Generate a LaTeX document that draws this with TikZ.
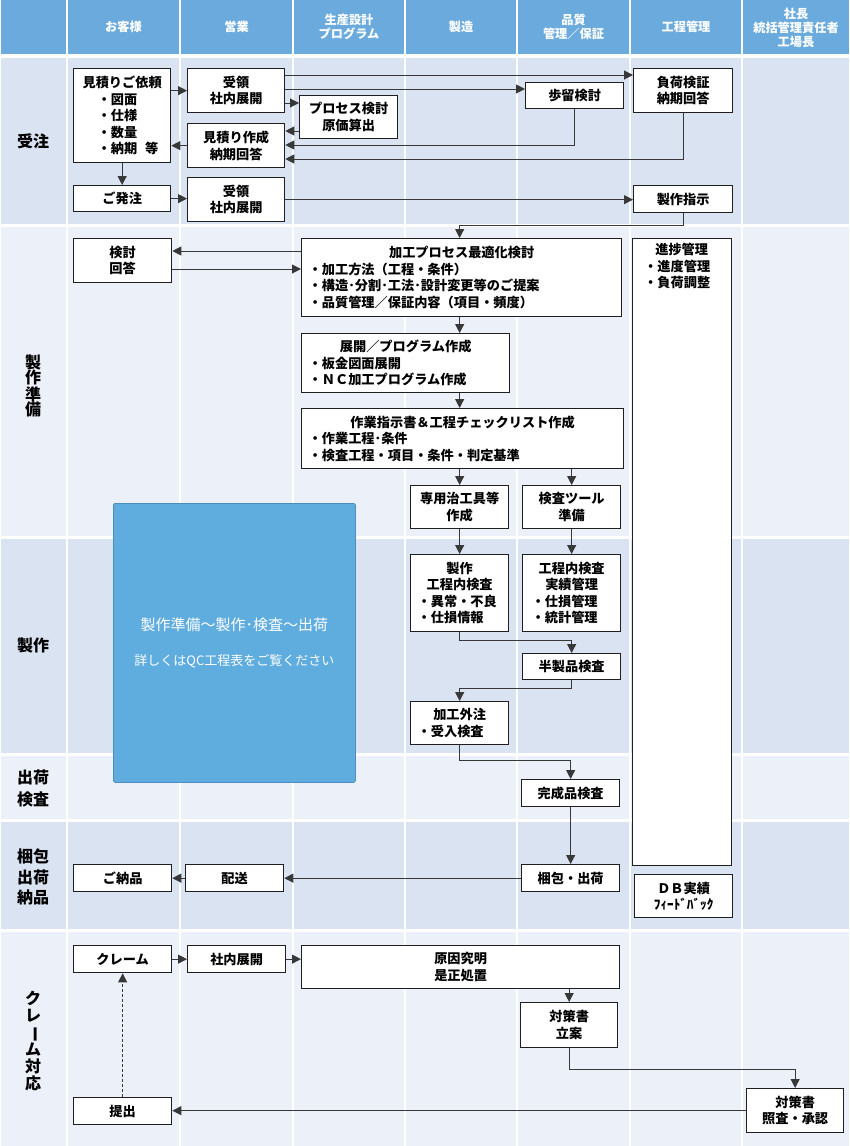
\documentclass[tikz,border=0pt]{standalone}
\usepackage{fontspec}
\usepackage{graphicx}
\setmainfont{Noto Sans CJK JP}
\usetikzlibrary{arrows.meta,calc}
\definecolor{hdr}{HTML}{6BAADC}
\definecolor{rowA}{HTML}{DAE3F1}
\definecolor{rowB}{HTML}{ECF1F9}
\definecolor{ovl}{HTML}{5FACDE}
\definecolor{ovlb}{HTML}{4A8DBF}
\definecolor{ln}{HTML}{383838}
\newcommand{\bxfont}{\fontsize{13.2}{16.5}\selectfont\bfseries}
\newcommand{\boxtitle}[1]{\noindent\makebox[\hsize]{#1}}
\begin{document}
\begin{tikzpicture}[x=1pt,y=-1pt,
  box/.style={draw=black!88, line width=1.3pt, fill=white, inner sep=0pt, align=center, font=\bxfont, anchor=north west},
  lbox/.style={box, align=left},
  arr/.style={draw=ln, line width=1pt, -{Triangle[length=9pt,width=9pt]}},
  hdrtxt/.style={text=white, font=\fontsize{12.2}{14.2}\selectfont\bfseries, align=center, inner sep=0pt},
  lbl/.style={font=\fontsize{16}{20.5}\selectfont\bfseries, align=center, inner sep=0pt},
  ovlbox/.style={fill=ovl, draw=ovlb, line width=0.8pt, rounded corners=2pt, anchor=north west, text=white, align=center, font=\fontsize{15}{35}\selectfont}
]
\useasboundingbox (0,0) rectangle (850,1146);
\fill[white] (0,0) rectangle (850,1146);
\foreach \ya/\yb/\c in {0/54/hdr,58/224/rowA,227/536/rowB,539/753/rowA,756/819/rowB,822/929/rowA,932/1146/rowB}{
  \foreach \xa/\xb in {0/67,67/180,180/293,293/405,405/517,517/630,630/742,742/850}{
    \fill[\c] (\xa+1,\ya) rectangle (\xb-1,\yb);
  }
}
% header
\node[hdrtxt] (h1) at (123.5,27) {お客様};
\node[hdrtxt] (h2) at (236.5,27) {営業};
\node[hdrtxt] (h3) at (349,27) {生産設計\\プログラム};
\node[hdrtxt] (h4) at (461,27) {製造};
\node[hdrtxt] (h5) at (573.5,27) {品質\\管理／保証};
\node[hdrtxt] (h6) at (686,27) {工程管理};
\node[hdrtxt] (h7) at (796,28) {社長\\統括管理責任者\\工場長};
% row labels
\node[lbl] (l1) at (33,141) {受注};
\node[lbl, font=\fontsize{16}{15.2}\selectfont\bfseries] (l2) at (33,386) {製\\作\\準\\備};
\node[lbl] (l3) at (33,645) {製作};
\node[lbl, font=\fontsize{16}{22}\selectfont\bfseries] (l4) at (33,788) {出荷\\検査};
\node[lbl] (l5) at (33,877) {梱包\\出荷\\納品};
\node[lbl, font=\fontsize{16}{16.8}\selectfont\bfseries] (l6) at (33,1041) {ク\\レ\\\rotatebox[origin=c]{-90}{ー}\\ム\\対\\応};
% overlay
\node[ovlbox, minimum width=242pt, minimum height=279pt] (qc) at (113,503) {製作準備～製作･検査～出荷\\{\fontsize{13}{35}\selectfont 詳しくはQC工程表をご覧ください}};
% boxes: 受注
\node[lbox, minimum width=97pt, minimum height=94pt, text width=83pt, inner xsep=7pt] (irai) at (73,68) {\boxtitle{見積りご依頼}\\\hspace*{17pt}・図面\\\hspace*{17pt}・仕様\\\hspace*{17pt}・数量\\\hspace*{17pt}・納期\hspace{8pt}等};
\node[box, minimum width=97pt, minimum height=44pt] (juryo1) at (187,68) {受領\\社内展開};
\node[box, minimum width=98pt, minimum height=43pt] (process) at (299,95) {プロセス検討\\原価算出};
\node[box, minimum width=97pt, minimum height=44pt] (mitsumori) at (187,123) {見積り作成\\納期回答};
\node[box, minimum width=97pt, minimum height=26pt] (hacchu) at (73,185) {ご発注};
\node[box, minimum width=97pt, minimum height=44pt] (juryo2) at (187,177) {受領\\社内展開};
\node[box, minimum width=98pt, minimum height=26pt] (budomari) at (525,82) {歩留検討};
\node[box, minimum width=99pt, minimum height=44pt] (fuka) at (633,68) {負荷検証\\納期回答};
\node[box, minimum width=99pt, minimum height=27pt] (seisakushiji) at (633,185) {製作指示};
% 製作準備
\node[box, minimum width=98pt, minimum height=44pt] (kento) at (73,238) {検討\\回答};
\node[lbox, minimum width=320pt, minimum height=78pt, text width=306pt, inner xsep=7pt] (kako) at (301,238) {\boxtitle{加工プロセス最適化検討}\\・加工方法（工程・条件）\\・構造･分割･工法･設計変更等のご提案\\・品質管理／保証内容（項目・頻度）};
\node[lbox, minimum width=208pt, minimum height=59pt, text width=194pt, inner xsep=7pt] (tenkai) at (301,333) {\boxtitle{展開／プログラム作成}\\・板金図面展開\\・ＮＣ加工プログラム作成};
\node[lbox, minimum width=322pt, minimum height=60pt, text width=308pt, inner xsep=7pt] (sagyo) at (301,408) {\boxtitle{作業指示書＆工程チェックリスト作成}\\・作業工程･条件\\・検査工程・項目・条件・判定基準};
\node[box, minimum width=98pt, minimum height=43pt] (jigu) at (410,485) {専用治工具等\\作成};
\node[box, minimum width=98pt, minimum height=43pt] (kensatool) at (522,485) {検査ツール\\準備};
% 製作
\node[lbox, minimum width=98pt, minimum height=77pt, text width=84pt, inner xsep=7pt] (seisaku) at (410,554) {\boxtitle{製作}\\\boxtitle{工程内検査}\\・異常・不良\\・仕損情報};
\node[lbox, minimum width=98pt, minimum height=77pt, text width=80pt, inner xsep=9pt] (jisseki) at (522,554) {\boxtitle{工程内検査}\\\boxtitle{実績管理}\\・仕損管理\\・統計管理};
\node[box, minimum width=98pt, minimum height=26pt] (hanseihin) at (522,653) {半製品検査};
\node[lbox, minimum width=98pt, minimum height=43pt, text width=84pt, inner xsep=7pt] (gaichu) at (410,701) {\boxtitle{加工外注}\\・受入検査};
\node[box, minimum width=98pt, minimum height=27pt] (kanseihin) at (521,779) {完成品検査};
\node[box, minimum width=98pt, minimum height=27pt] (konpo) at (521,864) {梱包・出荷};
\node[box, minimum width=99pt, minimum height=627pt] (shinchoku) at (632,238) {};
\node[inner sep=0pt, anchor=north west, align=left, text width=75pt, font=\bxfont] (shinchokutxt) at ([xshift=12pt,yshift=-5pt]shinchoku.north west) {\boxtitle{進捗管理}\\・進度管理\\・負荷調整};
\node[box, minimum width=98pt, minimum height=43pt] (db) at (634,874) {ＤＢ実績\\ﾌｨｰﾄﾞﾊﾞｯｸ};
\node[box, minimum width=98pt, minimum height=27pt] (nohin) at (73,864) {ご納品};
\node[box, minimum width=98pt, minimum height=27pt] (haiso) at (185,864) {配送};
% クレーム
\node[box, minimum width=98pt, minimum height=27pt] (claim) at (73,945) {クレーム};
\node[box, minimum width=98pt, minimum height=27pt] (shanai) at (187,945) {社内展開};
\node[box, minimum width=318pt, minimum height=43pt] (genin) at (301,945) {原因究明\\是正処置};
\node[box, minimum width=97pt, minimum height=45pt] (taisaku) at (520,1002) {対策書\\立案};
\node[box, minimum width=97pt, minimum height=44pt] (shoin) at (746,1088) {対策書\\照査・承認};
\node[box, minimum width=98pt, minimum height=27pt] (teishutsu) at (73,1097) {提出};
% connectors
\draw[arr] (irai.east |- juryo1.west) -- (juryo1.west);
\draw[arr] ([yshift=-35pt]juryo1.north east) coordinate (p1) -- (p1 -| process.west);
\draw[arr] ([yshift=-36pt]process.north west) coordinate (p2) -- (p2 -| mitsumori.east);
\draw[arr] (mitsumori.west) -- (mitsumori.west -| irai.east);
\draw[arr] (irai.south) -- (hacchu.north);
\draw[arr] (hacchu.east) -- (hacchu.east -| juryo2.west);
\draw[arr] ([yshift=-7pt]juryo1.north east) coordinate (p3) -- (p3 -| fuka.west);
\draw[arr] ([yshift=-21pt]juryo1.north east) coordinate (p4) -- (p4 -| budomari.west);
\draw[arr] (budomari.south) |- ([yshift=-22pt]mitsumori.north east);
\draw[arr] (fuka.south) |- ([yshift=-36pt]mitsumori.north east);
\draw[arr] (juryo2.east) -- (juryo2.east -| seisakushiji.west);
\draw[arr] (seisakushiji.south) -- ++(0,12) -| (jigu.north |- kako.north);
\draw[arr] ([yshift=-13pt]kako.north west) coordinate (p5) -- (p5 -| kento.east);
\draw[arr] ([yshift=-31pt]kento.north east) coordinate (p6) -- (p6 -| kako.west);
\draw[arr] (jigu.north |- kako.south) -- (jigu.north |- tenkai.north);
\draw[arr] (jigu.north |- tenkai.south) -- (jigu.north |- sagyo.north);
\draw[arr] (jigu.north |- sagyo.south) -- (jigu.north);
\draw[arr] (kensatool.north |- sagyo.south) -- (kensatool.north);
\draw[arr] (jigu.south) -- (seisaku.north);
\draw[arr] (kensatool.south) -- (jisseki.north);
\draw[arr] (seisaku.south) -- ++(0,8) -| (hanseihin.north);
\draw[arr] (hanseihin.south) -- ++(0,8) -| (gaichu.north);
\draw[arr] (gaichu.south) -- ++(0,15) -| (kanseihin.north);
\draw[arr] (kanseihin.south) -- (konpo.north);
\draw[arr] (konpo.west) -- (konpo.west -| haiso.east);
\draw[arr] (haiso.west) -- (haiso.west -| nohin.east);
\draw[arr] (claim.east) -- (claim.east -| shanai.west);
\draw[arr] (shanai.east) -- (shanai.east -| genin.west);
\draw[arr] (taisaku.north |- genin.south) -- (taisaku.north);
\draw[arr] (taisaku.south) -- ++(0,21) -| (shoin.north);
\draw[arr] (shoin.west) -- (shoin.west -| teishutsu.east);
\draw[arr, dash pattern=on 3pt off 2pt] (teishutsu.north) -- (claim.south);
\end{tikzpicture}
\end{document}
